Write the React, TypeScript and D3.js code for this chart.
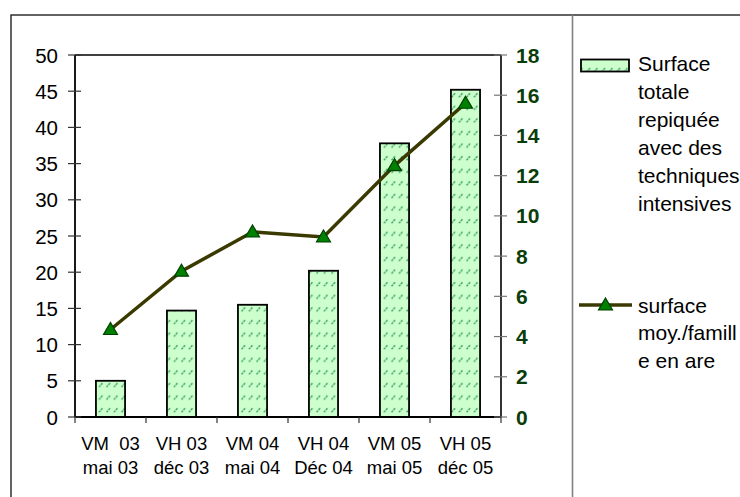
import React from "react";
import * as d3 from "d3";

const categories = ["VM  03|mai 03", "VH 03|déc 03", "VM 04|mai 04", "VH 04|Déc 04", "VM 05|mai 05", "VH 05|déc 05"];
const surfaceTotale = [5, 14.7, 15.5, 20.2, 37.8, 45.2];
const surfaceMoy = [4.35, 7.25, 9.2, 8.95, 12.5, 15.6];
const leftTicks = [0, 5, 10, 15, 20, 25, 30, 35, 40, 45, 50];
const rightTicks = [0, 2, 4, 6, 8, 10, 12, 14, 16, 18];
const legendBar = ["Surface", "totale", "repiquée", "avec des", "techniques", "intensives"];
const legendLine = ["surface", "moy./famill", "e en are"];

const W = 740, H = 497;
const plot = { left: 75, right: 501, top: 55, bottom: 417 };
const FONT = "'Liberation Sans', Arial, sans-serif";

export default function App() {
  const x = d3.scaleBand<string>().domain(categories).range([plot.left, plot.right]).padding(0);
  const yL = d3.scaleLinear().domain([0, 50]).range([plot.bottom, plot.top]);
  const yR = d3.scaleLinear().domain([0, 18]).range([plot.bottom, plot.top]);
  const bw = x.bandwidth() * 0.41;
  const cx = (c: string) => (x(c) as number) + x.bandwidth() / 2;
  const line = d3.line<number>().x((_, i) => cx(categories[i])).y((v) => yR(v));
  const tri = (px: number, py: number) => `M${px},${py - 7}L${px + 7},${py + 5}L${px - 7},${py + 5}Z`;
  const boundaries = [...categories.map((c) => x(c) as number), plot.right];

  return (
    <svg width={W} height={H} style={{ position: "absolute", left: 0, top: 0, background: "#fff" }} fontFamily={FONT}>
      <defs>
        <pattern id="hatch" patternUnits="userSpaceOnUse" width="7.5" height="12.6" x={0} y={0}>
          <rect width="7.5" height="12.6" fill="#ccffcc" />
          <line x1="1.5" y1="9" x2="5.5" y2="4.5" stroke="#2f9a5a" strokeWidth="1.3" strokeDasharray="2.2 0.8" />
        </pattern>
      </defs>
      <rect x={0} y={0} width={W} height={H} fill="#fff" />
      {/* outer border */}
      <rect x={11} y={15} width={W} height={H} fill="none" stroke="#222" strokeWidth={1.4} />
      {/* legend divider */}
      <line x1={572.5} y1={15} x2={572.5} y2={H} stroke="#808080" strokeWidth={1.6} />

      {/* bars */}
      {categories.map((c, i) => (
        <rect key={c} x={cx(c) - bw / 2} y={yL(surfaceTotale[i])} width={bw} height={plot.bottom - yL(surfaceTotale[i])}
          fill="url(#hatch)" stroke="#000" strokeWidth={1.8} />
      ))}

      {/* frame */}
      <line x1={plot.left} y1={plot.top} x2={plot.right} y2={plot.top} stroke="#000" strokeWidth={1.6} />
      <line x1={plot.right} y1={plot.top} x2={plot.right} y2={plot.bottom} stroke="#000" strokeWidth={1.6} />
      <line x1={plot.left} y1={plot.top} x2={plot.left} y2={plot.bottom} stroke="#000" strokeWidth={1.8} />
      <line x1={plot.left} y1={plot.bottom} x2={plot.right} y2={plot.bottom} stroke="#000" strokeWidth={1.8} />

      {/* left axis ticks */}
      {leftTicks.map((t) => (
        <g key={"l" + t}>
          <line x1={plot.left - 7} x2={plot.left + 6} y1={yL(t)} y2={yL(t)} stroke="#333" strokeWidth={1.2} />
          <text x={58} y={yL(t)} textAnchor="end" dominantBaseline="central" fontSize={20.5} fill="#000">{t}</text>
        </g>
      ))}

      {/* right axis ticks */}
      {rightTicks.map((t) => (
        <g key={"r" + t}>
          <line x1={plot.right - 7} x2={plot.right + 6} y1={yR(t)} y2={yR(t)} stroke="#777" strokeWidth={1.2} />
          <text x={516} y={yR(t)} textAnchor="start" dominantBaseline="central" fontSize={21} fontWeight="bold" fill="#0a3d0a">{t}</text>
        </g>
      ))}

      {/* x ticks */}
      {boundaries.map((b, i) => (
        <line key={"x" + i} x1={b} x2={b} y1={plot.bottom} y2={plot.bottom + 6} stroke="#333" strokeWidth={1.2} />
      ))}
      {categories.map((c) => {
        const [a, b] = c.split("|");
        return (
          <g key={"xl" + c}>
            <text x={cx(c)} y={443} textAnchor="middle" dominantBaseline="central" fontSize={18.5} style={{ whiteSpace: "pre" }}>{a}</text>
            <text x={cx(c)} y={467} textAnchor="middle" dominantBaseline="central" fontSize={18.5}>{b}</text>
          </g>
        );
      })}

      {/* line series */}
      <path d={line(surfaceMoy) || ""} fill="none" stroke="#3a3a00" strokeWidth={3.5} />
      {surfaceMoy.map((v, i) => (
        <path key={"m" + i} d={tri(cx(categories[i]), yR(v))} fill="#008000" stroke="#004000" strokeWidth={1.2} />
      ))}

      {/* legend */}
      <rect x={581} y={59.5} width={48} height={12} fill="url(#hatch)" stroke="#000" strokeWidth={1.8} />
      {legendBar.map((s, i) => (
        <text key={"lb" + i} x={638} y={63.5 + i * 28} dominantBaseline="central" fontSize={21}>{s}</text>
      ))}
      <line x1={579} x2={632} y1={305} y2={305} stroke="#3a3a00" strokeWidth={3.5} />
      <path d={tri(605.5, 305)} fill="#008000" stroke="#004000" strokeWidth={1.2} />
      {legendLine.map((s, i) => (
        <text key={"ll" + i} x={638} y={305 + i * 27.5} dominantBaseline="central" fontSize={21}>{s}</text>
      ))}
    </svg>
  );
}
